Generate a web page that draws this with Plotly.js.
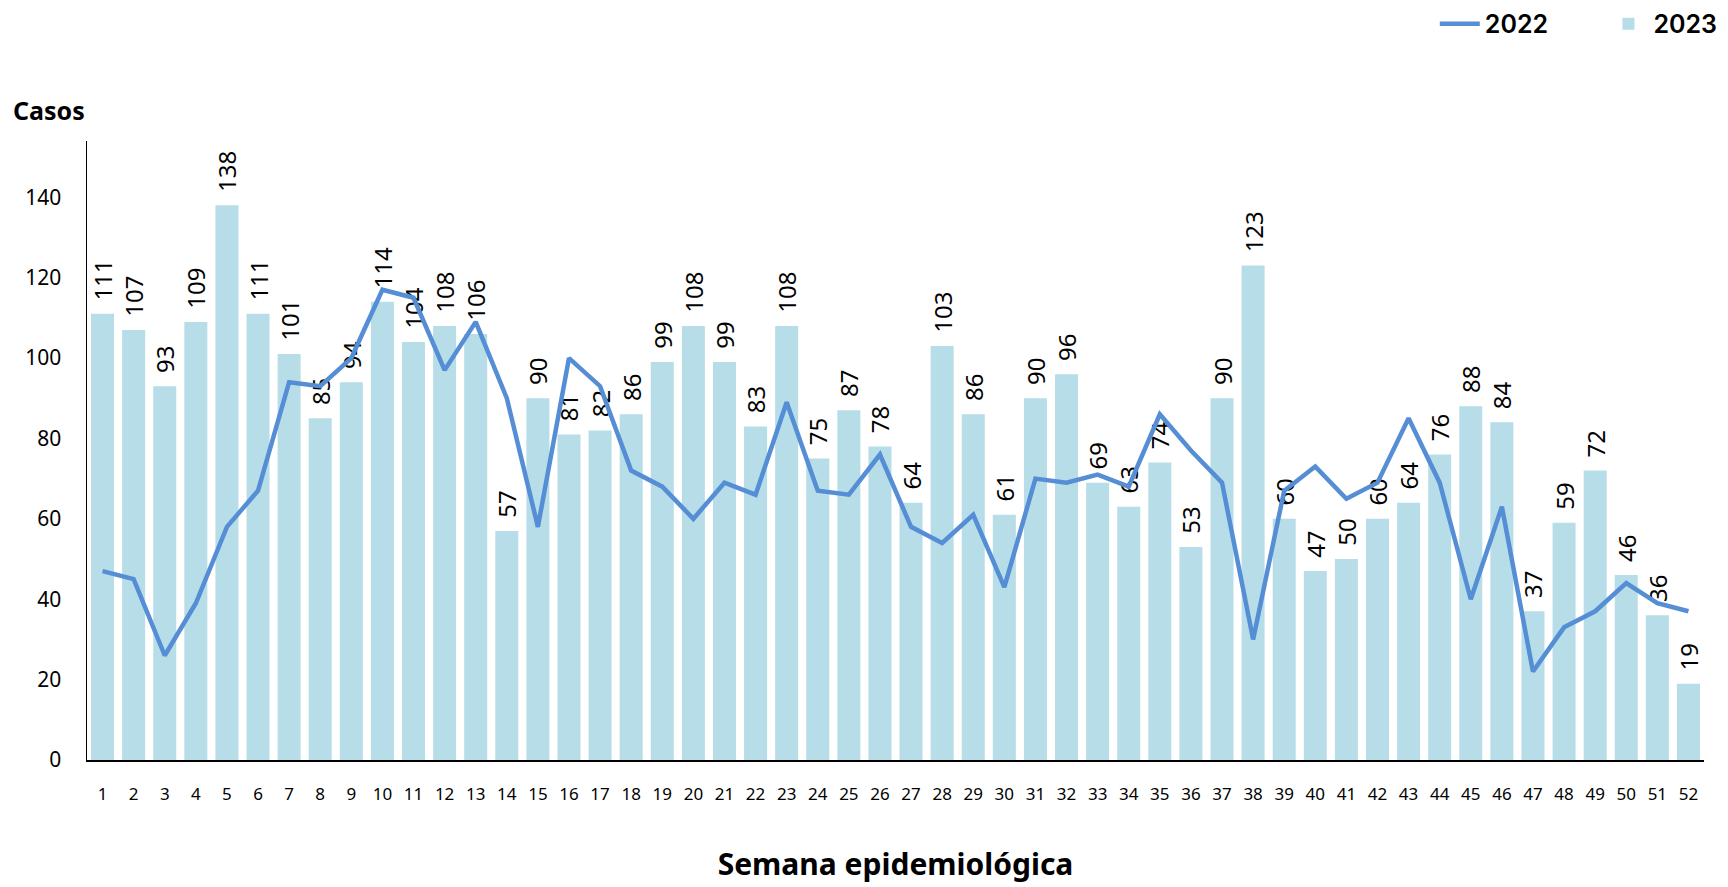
<!DOCTYPE html>
<html>
<head>
<meta charset="utf-8">
<script src="https://cdn.plot.ly/plotly-3.0.1.min.js"></script>
<style>
  html, body { margin: 0; padding: 0; background: #fff; }
  #chart { width: 1728px; height: 887px; }
</style>
</head>
<body>
<div id="chart"></div>
<script>
// semanas epidemiológicas 1..52
const semanas = Array.from({ length: 52 }, (_, i) => String(i + 1));

// casos 2023 (barras)
const casos2023 = [111, 107, 93, 109, 138, 111, 101, 85, 94, 114,
    104, 108, 106, 57, 90, 81, 82, 86, 99, 108,
    99, 83, 108, 75, 87, 78, 64, 103, 86, 61,
    90, 96, 69, 63, 74, 53, 90, 123, 60, 47,
    50, 60, 64, 76, 88, 84, 37, 59, 72, 46,
    36, 19];

// casos 2022 (línea)
const casos2022 = [47, 45, 26, 39, 58, 67, 94, 93, 100, 117,
    115, 97, 109, 90, 58, 100, 93, 72, 68, 60,
    69, 66, 89, 67, 66, 76, 58, 54, 61, 43,
    70, 69, 71, 68, 86, 77, 69, 30, 67, 73,
    65, 69, 85, 69, 40, 63, 22, 33, 37, 44,
    39, 37];

const yTicks = [0, 20, 40, 60, 80, 100, 120, 140];

const FONT = 'Noto Sans, Open Sans, sans-serif';
const NARROW = 'Liberation Sans Narrow, Noto Sans, sans-serif';

// etiquetas con un pequeño hueco sobre la barra
const etiquetas = casos2023.map(v => '\u00a0\u2009' + v);

const barras = {
    type: 'bar',
    name: '2023',
    x: semanas,
    y: casos2023,
    marker: { color: '#b7dde8' },
    text: etiquetas,
    textposition: 'outside',
    textangle: -90,
    constraintext: 'none',
    cliponaxis: false,
    textfont: { family: FONT, size: 24, color: '#000' },
    legendrank: 2,
    hoverinfo: 'x+y'
};

const linea = {
    type: 'scatter',
    mode: 'lines',
    // espacios para separar las entradas de la leyenda
    name: '2022' + '\u00a0'.repeat(8),
    x: semanas,
    y: casos2022,
    line: { color: '#558ed5', width: 4.5 },
    legendrank: 1,
    hoverinfo: 'x+y'
};

const layout = {
    width: 1728,
    height: 887,
    margin: { l: 87, r: 24, t: 141, b: 127 },
    paper_bgcolor: '#fff',
    plot_bgcolor: '#fff',
    bargap: 0.26,
    font: { family: FONT, color: '#000' },
    showlegend: true,
    legend: {
        orientation: 'h',
        xref: 'container', yref: 'container',
        x: 0.997, xanchor: 'right',
        y: 0.973, yanchor: 'middle',
        font: { family: 'Inter, Lato, sans-serif', size: 25, weight: 600, color: '#000' },
        itemwidth: 40
    },
    xaxis: {
        type: 'category',
        tickvals: semanas,
        ticktext: semanas,
        showgrid: false,
        showline: true,
        linecolor: '#000',
        linewidth: 1.5,
        ticks: '',
        tickangle: 0,
        ticklabelstandoff: 18,
        tickfont: { family: NARROW, size: 17, color: '#000' },
        title: {
            text: '<b>Semana epidemiológica</b>',
            font: { family: FONT, size: 30, color: '#000' },
            standoff: 50
        },
        fixedrange: true
    },
    yaxis: {
        range: [0, 154],
        tickvals: yTicks,
        ticktext: yTicks.map(String),
        showgrid: false,
        zeroline: false,
        showline: true,
        linecolor: '#000',
        linewidth: 1.5,
        ticks: '',
        ticklabelstandoff: 20,
        tickfont: { family: FONT, size: 21, color: '#000' },
        fixedrange: true
    },
    annotations: [{
        xref: 'paper', yref: 'paper',
        x: -0.047, y: 1.05,
        xanchor: 'left', yanchor: 'middle',
        text: '<b>Casos</b>',
        showarrow: false,
        font: { family: FONT, size: 25, color: '#000' }
    }]
};

Plotly.newPlot('chart', [barras, linea], layout, { displayModeBar: false, staticPlot: true });
</script>
</body>
</html>
